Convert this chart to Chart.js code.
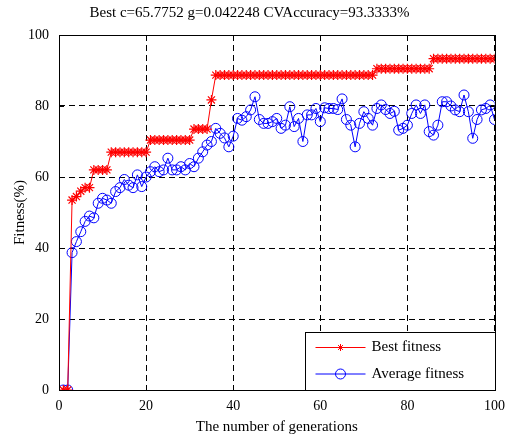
<!DOCTYPE html>
<html>
<head>
<meta charset="utf-8">
<script src="https://cdn.jsdelivr.net/npm/chart.js@4.4.0/dist/chart.umd.min.js"></script>
<style>
    html, body { margin: 0; padding: 0; background: #fff; overflow: hidden; }
    #wrap { width: 513px; height: 442px; }
</style>
</head>
<body>
<div id="wrap"><canvas id="fitnessChart" width="513" height="442"></canvas></div>
<script>
// Chart data
const generations = [
    1, 2, 3, 4, 5, 6, 7, 8, 9, 10, 11, 12, 13, 14, 15, 16, 17, 18, 19, 20,
    21, 22, 23, 24, 25, 26, 27, 28, 29, 30, 31, 32, 33, 34, 35, 36, 37, 38, 39, 40,
    41, 42, 43, 44, 45, 46, 47, 48, 49, 50, 51, 52, 53, 54, 55, 56, 57, 58, 59, 60,
    61, 62, 63, 64, 65, 66, 67, 68, 69, 70, 71, 72, 73, 74, 75, 76, 77, 78, 79, 80,
    81, 82, 83, 84, 85, 86, 87, 88, 89, 90, 91, 92, 93, 94, 95, 96, 97, 98, 99, 100
];
const bestFitness = [
    0, 0, 53.5, 54.5, 56, 57, 57, 62, 62, 62,
    62, 67, 67, 67, 67, 67, 67, 67, 67, 67,
    70.4, 70.4, 70.4, 70.4, 70.4, 70.4, 70.4, 70.4, 70.4, 70.4,
    73.5, 73.5, 73.5, 73.5, 81.7, 88.7, 88.7, 88.7, 88.7, 88.7,
    88.7, 88.7, 88.7, 88.7, 88.7, 88.7, 88.7, 88.7, 88.7, 88.7,
    88.7, 88.7, 88.7, 88.7, 88.7, 88.7, 88.7, 88.7, 88.7, 88.7,
    88.7, 88.7, 88.7, 88.7, 88.7, 88.7, 88.7, 88.7, 88.7, 88.7,
    88.7, 88.7, 90.5, 90.5, 90.5, 90.5, 90.5, 90.5, 90.5, 90.5,
    90.5, 90.5, 90.5, 90.5, 90.5, 93.33, 93.33, 93.33, 93.33, 93.33,
    93.33, 93.33, 93.33, 93.33, 93.33, 93.33, 93.33, 93.33, 93.33, 93.33
];
const averageFitness = [
    0, 0, 38.7, 41.8, 44.6, 47.5, 49, 48.5, 52.6, 54,
    53.5, 52.6, 55.9, 57, 59.3, 57.7, 57, 60.6, 57.3, 60,
    61.5, 62.9, 61.5, 62, 65.3, 62, 62, 62.9, 62, 63.8,
    62.9, 65.3, 67.1, 69, 70, 73.7, 72.3, 71, 68.5, 71.5,
    76.5, 76, 77, 78.9, 82.6, 76.2, 75.1, 75.1, 75.6, 76.5,
    73.7, 74.6, 79.8, 74.2, 76.5, 70, 77.5, 77.5, 79.3, 75.6,
    79.5, 79.3, 79.3, 79, 82, 76.2, 74.6, 68.5, 75.1, 78.4,
    76.5, 74.6, 79.3, 80.3, 79, 77.9, 78.5, 73.2, 73.7, 74.6,
    77.9, 80.3, 77.9, 80.3, 72.8, 71.8, 74.6, 81.2, 81.2, 80,
    78.9, 78.4, 83.1, 78.4, 70.9, 76.2, 78.9, 79.3, 80.3, 76.2
];
const xTicks = [0, 20, 40, 60, 80, 100];
const yTicks = [0, 20, 40, 60, 80, 100];

const FONT = "'Liberation Serif', 'Times New Roman', serif";

// Box, inward ticks and inset legend (MATLAB style)
const matlabFrame = {
    id: 'matlabFrame',
    afterDraw(chart) {
        const { ctx, chartArea: a, scales } = chart;
        ctx.save();
        ctx.strokeStyle = '#000';
        ctx.lineWidth = 1;
        ctx.setLineDash([]);

        // inward tick marks
        ctx.beginPath();
        xTicks.forEach(v => {
            const px = Math.round(scales.x.getPixelForValue(v)) + 0.5;
            ctx.moveTo(px, a.bottom); ctx.lineTo(px, a.bottom - 5);
            ctx.moveTo(px, a.top); ctx.lineTo(px, a.top + 5);
        });
        yTicks.forEach(v => {
            const py = Math.round(scales.y.getPixelForValue(v)) + 0.5;
            ctx.moveTo(a.left, py); ctx.lineTo(a.left + 5, py);
            ctx.moveTo(a.right, py); ctx.lineTo(a.right - 5, py);
        });
        ctx.stroke();

        // axes box
        ctx.strokeRect(Math.round(a.left) + 0.5, Math.round(a.top) + 0.5,
            Math.round(a.width), Math.round(a.height));

        // legend
        const lw = 190, lh = 58;
        const lx = Math.round(a.right) - lw + 0.5;
        const ly = Math.round(a.bottom) - lh + 0.5;
        ctx.fillStyle = '#fff';
        ctx.fillRect(lx, ly, lw, lh);
        ctx.strokeRect(lx, ly, lw, lh);

        ctx.font = '15px ' + FONT;
        ctx.textBaseline = 'middle';
        ctx.textAlign = 'left';
        chart.data.datasets.forEach((ds, i) => {
            const y = ly + 15 + i * 26.5;
            const x0 = lx + 10, x1 = lx + 60, xm = lx + 35;
            ctx.strokeStyle = ds.borderColor;
            ctx.lineWidth = 1;
            ctx.beginPath();
            ctx.moveTo(x0, y); ctx.lineTo(x1, y);
            ctx.stroke();
            ctx.beginPath();
            if (ds.pointStyle === 'circle') {
                ctx.arc(xm, y, 5, 0, Math.PI * 2);
            } else {
                const r = 3.5;
                ctx.moveTo(xm - r, y); ctx.lineTo(xm + r, y);
                ctx.moveTo(xm, y - r); ctx.lineTo(xm, y + r);
                ctx.moveTo(xm - r * 0.7, y - r * 0.7); ctx.lineTo(xm + r * 0.7, y + r * 0.7);
                ctx.moveTo(xm - r * 0.7, y + r * 0.7); ctx.lineTo(xm + r * 0.7, y - r * 0.7);
            }
            ctx.stroke();
            ctx.fillStyle = '#000';
            ctx.fillText(ds.label, lx + 66, y);
        });
        ctx.restore();
    }
};

function initChart() {
    const ctx = document.getElementById('fitnessChart').getContext('2d');

    const data = {
        datasets: [{
            label: 'Best fitness',
            data: generations.map((g, i) => ({ x: g, y: bestFitness[i] })),
            borderColor: '#ff0000',
            backgroundColor: '#ff0000',
            borderWidth: 1,
            pointStyle: 'star',
            pointRadius: 5,
            pointBorderWidth: 1.2,
            tension: 0
        }, {
            label: 'Average fitness',
            data: generations.map((g, i) => ({ x: g, y: averageFitness[i] })),
            borderColor: '#0000ff',
            backgroundColor: 'rgba(0,0,0,0)',
            borderWidth: 1,
            pointStyle: 'circle',
            pointRadius: 5,
            pointBorderWidth: 1,
            tension: 0
        }]
    };

    const axisGrid = { color: '#000', lineWidth: 1, drawTicks: false };

    const config = {
        type: 'line',
        data: data,
        plugins: [matlabFrame],
        options: {
            responsive: false,
            animation: false,
            layout: { padding: { left: 0, right: 14, top: 0, bottom: 0 } },
            plugins: {
                legend: { display: false },
                tooltip: { enabled: false },
                title: {
                    display: true,
                    text: 'Best c=65.7752 g=0.042248 CVAccuracy=93.3333%',
                    color: '#000',
                    font: { family: FONT, size: 15, weight: 'normal' },
                    padding: { top: 4, bottom: 13 }
                }
            },
            scales: {
                x: {
                    type: 'linear',
                    min: 0,
                    max: 100,
                    grid: axisGrid,
                    border: { display: false, dash: [6, 4] },
                    afterBuildTicks: s => { s.ticks = xTicks.map(v => ({ value: v })); },
                    afterFit: s => { s.height = 52; },
                    ticks: {
                        color: '#000',
                        padding: 8,
                        maxRotation: 0,
                        font: { family: FONT, size: 14 }
                    },
                    title: {
                        display: true,
                        text: 'The number of generations',
                        color: '#000',
                        font: { family: FONT, size: 15 },
                        padding: { top: 0, bottom: 5.6 }
                    }
                },
                y: {
                    min: 0,
                    max: 100,
                    grid: axisGrid,
                    border: { display: false, dash: [6, 4] },
                    afterBuildTicks: s => { s.ticks = yTicks.map(v => ({ value: v })); },
                    afterFit: s => { s.width = 59; },
                    ticks: {
                        color: '#000',
                        padding: 10,
                        font: { family: FONT, size: 14 }
                    },
                    title: {
                        display: true,
                        text: 'Fitness(%)',
                        color: '#000',
                        font: { family: FONT, size: 15 },
                        padding: { top: 11, bottom: 0 }
                    }
                }
            }
        }
    };

    new Chart(ctx, config);
}

document.addEventListener('DOMContentLoaded', initChart);
</script>
</body>
</html>
